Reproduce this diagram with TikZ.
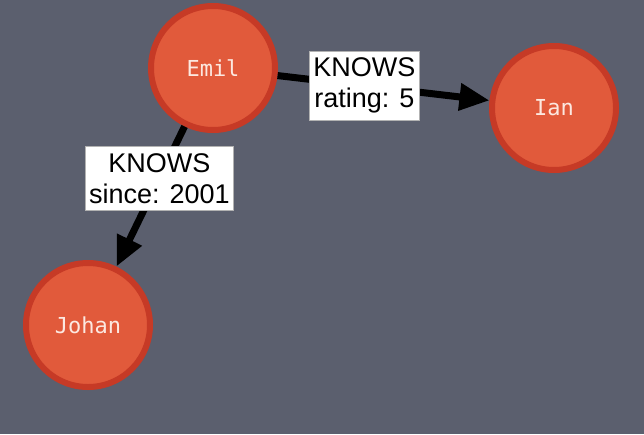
\documentclass[tikz,border=0pt]{standalone}
\usepackage{fontspec}
\setmainfont{Liberation Sans}
\newfontfamily\nodefont{DejaVu Sans Mono}
\usetikzlibrary{arrows.meta}
\definecolor{bg}{HTML}{5B5F6E}
\definecolor{nodefill}{HTML}{E15A3B}
\definecolor{nodeborder}{HTML}{C63A26}
\definecolor{nodetext}{HTML}{FCE8E0}
\tikzset{
  person/.style={circle, fill=nodefill, draw=nodeborder, line width=6pt,
    minimum size=124pt, inner sep=0pt, text=nodetext,
    font=\nodefont\fontsize{22}{26}\selectfont},
  rel/.style={line width=7pt, draw=black, -{Triangle[length=30pt,width=26pt]}},
  rellabel/.style={fill=white, draw=gray!60, line width=0.6pt, align=center,
    text=black, font=\fontsize{27}{31}\selectfont, inner xsep=4pt, inner ysep=7pt}
}
\begin{document}
\begin{tikzpicture}[x=1pt,y=-1pt]
\fill[bg] (0,0) rectangle (644,434);
\useasboundingbox (0,0) rectangle (644,434);
\node[person] (emil) at (213,68) {Emil};
\node[person] (ian) at (554,108) {Ian};
\node[person] (johan) at (88,325) {Johan};
\draw[rel] (emil) -- (ian) node[pos=0.41, rellabel] (l1) {KNOWS\\rating: 5};
\draw[rel] (emil) -- (johan) node[pos=0.37, rellabel] (l2) {KNOWS\\since: 2001};
\end{tikzpicture}
\end{document}
